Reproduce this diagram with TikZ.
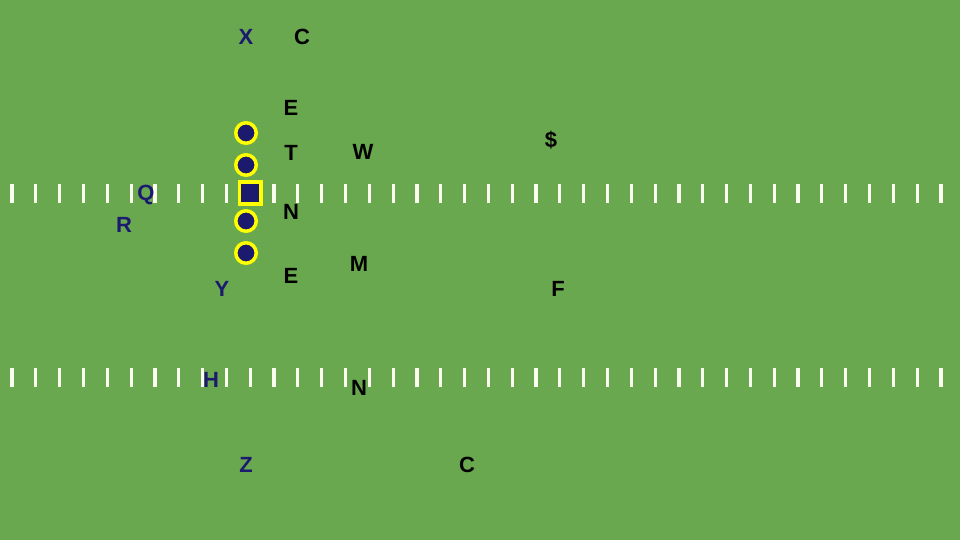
\documentclass[tikz,border=0pt]{standalone}
\usepackage{fontspec}
\setmainfont{Liberation Sans}
\definecolor{field}{HTML}{6AA84F}
\definecolor{navy}{HTML}{1C1A6E}
\definecolor{hashc}{HTML}{FAFFF0}
\definecolor{ylw}{HTML}{FFFF00}
\begin{document}
\begin{tikzpicture}[x=1pt,y=-1pt,
  lbl/.style={font=\fontsize{22}{24}\selectfont\bfseries, inner sep=0pt, text=black},
  off/.style={lbl, text=navy},
  lineman/.style={circle, draw=ylw, line width=3.5pt, fill=navy, minimum size=20.5pt, inner sep=0pt},
  center/.style={rectangle, draw=ylw, line width=3.5pt, fill=navy, minimum size=21.5pt, inner sep=0pt},
  hashmark/.style={draw=hashc, line width=3.2pt}]
\fill[field] (0,0) rectangle (960,540);
\useasboundingbox (0,0) rectangle (960,540);
% hash marks
\foreach \i in {0,...,39} {
  \draw[hashmark] ({12+23.82*\i},184) -- ({12+23.82*\i},203);
  \draw[hashmark] ({12+23.82*\i},368) -- ({12+23.82*\i},387);
}
% offensive line
\node[lineman] (lt) at (246,133) {};
\node[lineman] (lg) at (246,165) {};
\node[center] (c) at (250,193) {};
\node[lineman] (rg) at (246,221) {};
\node[lineman] (rt) at (246,253) {};
% offense letters
\node[off] (x) at (246,37) {X};
\node[off] (q) at (146,195) {Q};
\node[off] (r) at (124,225) {R};
\node[off] (y) at (222,289) {Y};
\node[off] (h) at (211,380) {H};
\node[off] (z) at (246,465) {Z};
% defense letters
\node[lbl] (c1) at (302,37) {C};
\node[lbl] (e1) at (291,108) {E};
\node[lbl] (t) at (291,153) {T};
\node[lbl] (w) at (363,152) {W};
\node[lbl] (s) at (551,140) {\$};
\node[lbl] (n1) at (291,212) {N};
\node[lbl] (m) at (359,264) {M};
\node[lbl] (e2) at (291,276) {E};
\node[lbl] (f) at (558,289) {F};
\node[lbl] (n2) at (359,388) {N};
\node[lbl] (c2) at (467,465) {C};
\end{tikzpicture}
\end{document}
